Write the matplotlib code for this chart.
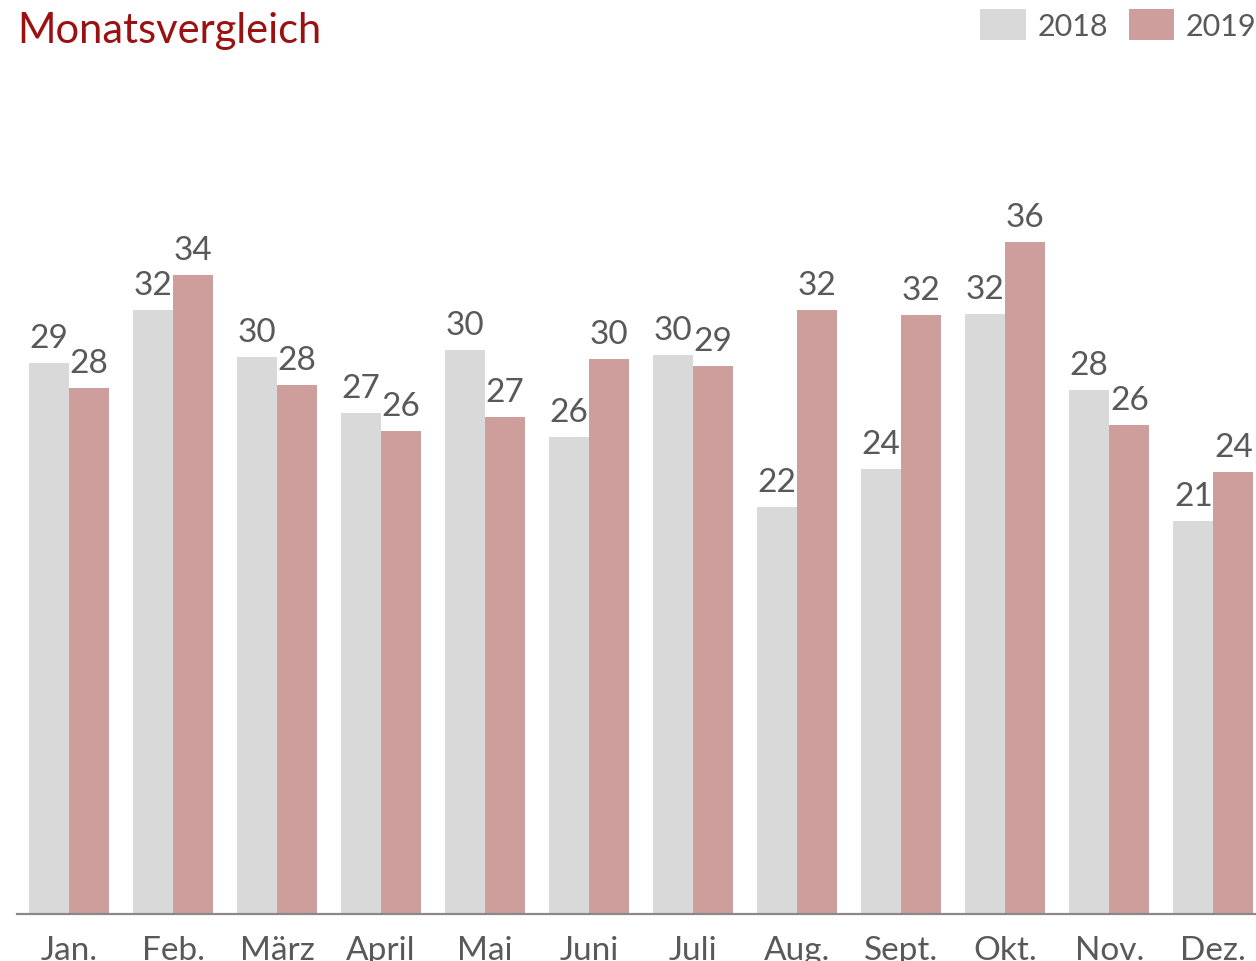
import numpy as np
import matplotlib.pyplot as plt

monate = ['Jan.', 'Feb.', 'März', 'April', 'Mai', 'Juni', 'Juli', 'Aug.', 'Sept.', 'Okt.', 'Nov.', 'Dez.']
werte_2018 = [29.47, 32.3, 29.79, 26.79, 30.16, 25.51, 29.89, 21.76, 23.8, 32.09, 28.02, 21.02]
werte_2019 = [28.13, 34.17, 28.29, 25.83, 26.58, 29.68, 29.3, 32.3, 32.03, 35.94, 26.15, 23.64]

grau = '#d9d9d9'
rosa = '#cd9e9c'
textfarbe = '#595959'

plt.rcParams['font.family'] = ['Lato', 'DejaVu Sans']

fig = plt.figure(figsize=(12.56, 9.62), dpi=100)
ax = fig.add_axes([17 / 1256, 1 - 915 / 962, 1 - 17 / 1256, 748 / 962])

x = np.arange(len(monate))
b = 40 / 104
bars1 = ax.bar(x - b / 2, werte_2018, b, color=grau, label='2018')
bars2 = ax.bar(x + b / 2, werte_2019, b, color=rosa, label='2019')

for bars, werte in ((bars1, werte_2018), (bars2, werte_2019)):
    for r, w in zip(bars, werte):
        ax.annotate('%d' % round(w), (r.get_x() + r.get_width() / 2, r.get_height()),
                    xytext=(0, 7), textcoords='offset points', ha='center', va='bottom',
                    fontsize=24, color=textfarbe)

ax.set_xlim(-0.5, 11.41)
ax.set_ylim(0, 40)
ax.set_xticks(x)
ax.set_xticklabels(monate, fontsize=24, color=textfarbe)
ax.tick_params(axis='x', length=0, pad=15)
ax.set_yticks([])
for s in ['top', 'right', 'left']:
    ax.spines[s].set_visible(False)
ax.spines['bottom'].set_color('#898989')
ax.spines['bottom'].set_linewidth(1.6)

fig.text(17 / 1256, 1 - 43 / 962, 'Monatsvergleich', fontsize=30, color='#9b1111',
         ha='left', va='baseline')

leg = fig.legend(loc='upper right', bbox_to_anchor=(1.0, 1 - 10 / 962), ncol=2, frameon=False,
                 fontsize=22, handlelength=1.5, handleheight=1.2, handletextpad=0.36,
                 columnspacing=0.68, borderaxespad=0, borderpad=0)
for t in leg.get_texts():
    t.set_color(textfarbe)

fig.savefig('out.png', dpi=100)
